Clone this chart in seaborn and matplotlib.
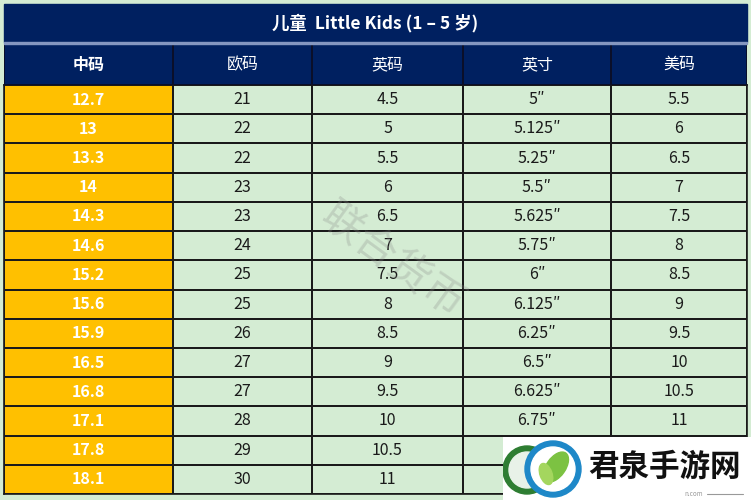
import numpy as np
import matplotlib
matplotlib.use("Agg")
import matplotlib.pyplot as plt
from matplotlib.colors import ListedColormap
from matplotlib.patches import Rectangle, Circle, Ellipse
import seaborn as sns

title = "儿童  Little Kids (1 – 5 岁)"
columns = ["中码", "欧码", "英码", "英寸", "美码"]
cn_size = ["12.7", "13", "13.3", "14", "14.3", "14.6", "15.2", "15.6",
           "15.9", "16.5", "16.8", "17.1", "17.8", "18.1"]
eu_size = ["21", "22", "22", "23", "23", "24", "25", "25", "26", "27",
           "27", "28", "29", "30"]
uk_size = ["4.5", "5", "5.5", "6", "6.5", "7", "7.5", "8", "8.5", "9",
           "9.5", "10", "10.5", "11"]
# last two cells of these columns are hidden under the site logo
inch = ["5″", "5.125″", "5.25″", "5.5″", "5.625″", "5.75″", "6″", "6.125″",
        "6.25″", "6.5″", "6.625″", "6.75″", "", ""]
us_size = ["5.5", "6", "6.5", "7", "7.5", "8", "8.5", "9", "9.5", "10",
           "10.5", "11", "", ""]

sns.set_theme(style="white")
plt.rcParams['font.family'] = ['Noto Sans CJK SC', 'DejaVu Sans']

NAVY = "#002060"
ORANGE = "#FFC000"
GREEN = "#D4ECD3"

W, H = 751, 500
fig = plt.figure(figsize=(W / 100, H / 100), dpi=100, facecolor=GREEN)

# column edges in pixels (unequal widths)
edges = np.array([4, 173, 312, 463, 611, 747], dtype=float)
L, R = edges[0], edges[-1]
norm = (edges - L) / (R - L) * 5
idx = np.arange(6, dtype=float)
fwd = lambda x: np.interp(x, idx, norm)
inv = lambda x: np.interp(x, norm, idx)


def axes_px(x0, y0, x1, y1):
    return fig.add_axes([x0 / W, 1 - y1 / H, (x1 - x0) / W, (y1 - y0) / H])


# body
body = np.array([cn_size, eu_size, uk_size, inch, us_size]).T
codes = np.ones(body.shape)
codes[:, 0] = 0
ax = axes_px(L, 85, R, 494)
sns.heatmap(codes, ax=ax, cmap=ListedColormap([ORANGE, GREEN]), vmin=0, vmax=1,
            cbar=False, annot=body, fmt="", linewidths=1.1, linecolor="#1a1a1a",
            annot_kws=dict(fontsize=11.5, color="#1a1a1a"))
ax.set_xscale("function", functions=(fwd, inv))
ax.set_xlim(0, 5)
for t in ax.texts:
    if t.get_position()[0] < 1:
        t.set_color("white")
        t.set_fontweight("bold")
ax.set_xticks([])
ax.set_yticks([])
for s in ax.spines.values():
    s.set_visible(True)
    s.set_color("#1a1a1a")
    s.set_linewidth(1.2)

# header row
hax = axes_px(L, 44, R, 85)
sns.heatmap(np.zeros((1, 5)), ax=hax, cmap=ListedColormap([NAVY]), cbar=False,
            annot=np.array([columns]), fmt="", linewidths=1.1, linecolor="#0a0f2a",
            annot_kws=dict(fontsize=11.5, color="white"))
hax.set_xscale("function", functions=(fwd, inv))
hax.set_xlim(0, 5)
hax.texts[0].set_fontweight("bold")
hax.set_xticks([])
hax.set_yticks([])

# title bar
fig.patches.append(Rectangle((L / W, 1 - 42 / H), (R - L) / W, 38 / H,
                             transform=fig.transFigure, color=NAVY, zorder=0))
fig.patches.append(Rectangle((L / W, 1 - 44 / H), (R - L) / W, 2 / H,
                             transform=fig.transFigure, color="#8496C0", zorder=0))
fig.text((L + R) / 2 / W, 1 - 23 / H, title, color="white", fontsize=12.5,
         fontweight="bold", ha="center", va="center")

# faint watermark
fig.text(392 / W, 1 - 262 / H, "联合货币", color="#8a8a8a", alpha=0.28,
         fontsize=30, rotation=-36, ha="center", va="center")

# site logo watermark at bottom right
lax = axes_px(503, 437, 751, 500)
lax.set_xlim(0, 248)
lax.set_ylim(63, 0)
lax.axis("off")
lax.add_patch(Rectangle((0, 0), 248, 63, color="white"))
lax.add_patch(Circle((24, 33), 24, color="#2E7D32"))
lax.add_patch(Circle((24, 33), 18, color="#E8F2E8"))
lax.add_patch(Circle((50, 32), 28, color="#1E88C8"))
lax.add_patch(Circle((50, 32), 22, color="white"))
lax.add_patch(Ellipse((53, 30), 19, 34, angle=35, color="#7CC242"))
lax.add_patch(Ellipse((43, 37), 12, 22, angle=-20, color="#A4D65E"))
lax.text(85, 30, "君泉手游网", fontsize=22, fontweight="heavy", color="#111111",
         va="center", ha="left")
lax.text(200, 57, "n.com", fontsize=4.5, color="#999999", va="center", ha="right")
lax.plot([204, 240], [57, 57], color="#999999", lw=0.8)

fig.savefig("out.png", dpi=100, facecolor=GREEN)
